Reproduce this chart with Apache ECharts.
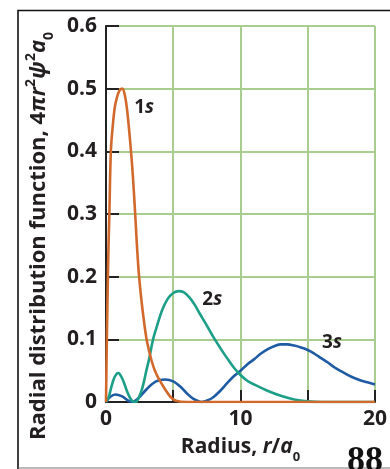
<!DOCTYPE html>
<html>
<head>
<meta charset="utf-8">
<script src="https://cdn.jsdelivr.net/npm/echarts@6/dist/echarts.min.js"></script>
<style>
html,body{margin:0;padding:0;background:#fff;}
#c{width:390px;height:469px;}
</style>
</head>
<body>
<div id="c"></div>
<script>
// ---- data ----
const r1s = [0, 0.05, 0.1, 0.15, 0.2, 0.25, 0.36, 0.5, 0.65, 0.8, 1.0, 1.2, 1.4, 1.6, 1.86, 2.0, 2.17, 2.3, 2.46, 2.7, 3.0, 3.2, 3.4, 3.6, 3.9, 4.4, 4.8, 5.2, 6, 8, 10, 12, 14, 16, 18, 20];
const v1s = [0, 0.08, 0.15, 0.21, 0.26, 0.3, 0.4, 0.44, 0.47, 0.485, 0.497, 0.5, 0.49, 0.46, 0.4, 0.36, 0.3, 0.25, 0.2, 0.15, 0.102, 0.082, 0.065, 0.052, 0.038, 0.02, 0.008, 0.002, 0, 0, 0, 0, 0, 0, 0, 0];

const r2s = [0, 0.2, 0.4, 0.6, 0.8, 0.9, 1.0, 1.2, 1.4, 1.6, 1.8, 2.0, 2.2, 2.4, 2.7, 3.0, 3.2, 3.5, 3.8, 4.2, 4.6, 5.0, 5.4, 5.8, 6.2, 6.6, 7.0, 7.5, 8.0, 8.5, 9.0, 9.5, 10, 10.5, 11, 12, 13, 14, 15, 16, 20];
const v2s = [0, 0.008, 0.024, 0.038, 0.045, 0.046, 0.045, 0.038, 0.027, 0.015, 0.006, 0.001, 0, 0.005, 0.022, 0.05, 0.068, 0.1, 0.122, 0.148, 0.165, 0.174, 0.177, 0.175, 0.167, 0.155, 0.14, 0.122, 0.103, 0.086, 0.07, 0.055, 0.043, 0.034, 0.028, 0.018, 0.01, 0.004, 0.001, 0, 0];

const r3s = [0, 0.3, 0.7, 1.2, 1.6, 1.9, 2.4, 3.0, 3.5, 4.0, 4.4, 5.0, 5.5, 6.0, 6.5, 7.1, 7.6, 8.0, 8.5, 9.0, 9.5, 10, 10.5, 11, 11.5, 12, 12.5, 13, 13.5, 14, 14.5, 15, 15.5, 16, 16.5, 17, 17.5, 18, 18.5, 19, 19.5, 20];
const v3s = [0, 0.008, 0.012, 0.009, 0.003, 0, 0.006, 0.02, 0.03, 0.035, 0.036, 0.033, 0.025, 0.014, 0.005, 0, 0.003, 0.008, 0.018, 0.03, 0.041, 0.05, 0.06, 0.068, 0.077, 0.084, 0.089, 0.092, 0.092, 0.09, 0.087, 0.083, 0.077, 0.07, 0.063, 0.055, 0.049, 0.043, 0.038, 0.034, 0.031, 0.028];

const seriesNames = ['1s', '2s', '3s'];
const labelAt = [[2.83, 0.47], [7.9, 0.164], [16.8, 0.094]];
const xTickLabels = {0: '0', 10: '10', 20: '20'};
const yTickLabels = ['0', '0.1', '0.2', '0.3', '0.4', '0.5', '0.6'];

// ---- build ----
const zip = (a, b) => a.map((x, i) => [x, b[i]]);
const colors = ['#d2692c', '#1c9f86', '#1f5ba5'];
const dataSets = [zip(r1s, v1s), zip(r2s, v2s), zip(r3s, v3s)];
const txt = '#231f20';
const FONT = 'Open Sans';

const chart = echarts.init(document.getElementById('c'), null, {renderer: 'canvas'});

const series = dataSets.map((d, i) => ({
  type: 'line',
  name: seriesNames[i],
  data: d,
  smooth: 0.35,
  showSymbol: false,
  symbol: 'none',
  lineStyle: {color: colors[i], width: 2.6},
  z: 3 + (2 - i),
  markPoint: {
    symbol: 'circle', symbolSize: 0,
    data: [{coord: labelAt[i]}],
    label: {
      show: true, position: 'inside',
      formatter: '{n|' + seriesNames[i].charAt(0) + '}{s|' + seriesNames[i].slice(1) + '}',
      rich: {
        n: {fontFamily: FONT, fontWeight: 'bold', fontSize: 19, color: txt},
        s: {fontFamily: FONT, fontWeight: 'bold', fontStyle: 'italic', fontSize: 19, color: txt}
      }
    }
  }
}));

const option = {
  animation: false,
  backgroundColor: '#fff',
  grid: {left: 106, right: 7, top: 26, bottom: 66, containLabel: false},
  xAxis: {
    type: 'value', min: 0, max: 20, interval: 5,
    name: 'Radius, {i|r}/{i|a}{sub|0}',
    nameLocation: 'middle', nameGap: 35,
    nameTextStyle: {
      fontFamily: FONT, fontWeight: 'bold', fontSize: 21, color: txt,
      rich: {
        i: {fontFamily: FONT, fontWeight: 'bold', fontStyle: 'italic', fontSize: 21, color: txt},
        sub: {fontFamily: FONT, fontWeight: 'bold', fontSize: 13, color: txt, verticalAlign: 'bottom', padding: [0, 0, -6, 0]}
      }
    },
    axisLine: {show: true, lineStyle: {color: '#222', width: 2}},
    axisTick: {show: true, inside: true, length: 12, lineStyle: {color: '#222', width: 2}},
    axisLabel: {
      margin: 7, fontFamily: FONT, fontWeight: 'bold', fontSize: 21, color: txt,
      formatter: v => (xTickLabels[v] !== undefined ? xTickLabels[v] : '')
    },
    splitLine: {show: true, lineStyle: {color: '#a9cd8e', width: 2}}
  },
  yAxis: {
    type: 'value', min: 0, max: 0.6, interval: 0.1,
    name: 'Radial distribution function, 4{i|πr}{sup|2}{i|ψ}{sup|2}{i|a}{sub|0}',
    nameLocation: 'middle', nameGap: 53, nameRotate: 90,
    nameTextStyle: {
      fontFamily: FONT, fontWeight: 'bold', fontSize: 22, color: txt,
      padding: [0, 44, 0, 0],
      rich: {
        i: {fontFamily: FONT, fontWeight: 'bold', fontStyle: 'italic', fontSize: 22, color: txt},
        sup: {fontFamily: FONT, fontWeight: 'bold', fontSize: 14, color: txt, verticalAlign: 'top', padding: [-4, 0, 0, 0]},
        sub: {fontFamily: FONT, fontWeight: 'bold', fontSize: 14, color: txt, verticalAlign: 'bottom', padding: [0, 0, -6, 0]}
      }
    },
    axisLine: {show: true, lineStyle: {color: '#222', width: 2}},
    axisTick: {show: true, inside: true, length: 13, lineStyle: {color: '#222', width: 2}},
    axisLabel: {
      margin: 9, fontFamily: FONT, fontWeight: 'bold', fontSize: 21, color: txt,
      formatter: (v) => yTickLabels[Math.round(v * 10)]
    },
    splitLine: {show: true, lineStyle: {color: '#a9cd8e', width: 2}}
  },
  graphic: [
    {type: 'polyline', shape: {points: [[18, 469], [18, 10.5], [390, 10.5]]}, style: {stroke: '#111', lineWidth: 1.6, fill: null}, silent: true},
    {type: 'line', shape: {x1: 18, y1: 468, x2: 390, y2: 468}, style: {stroke: '#777', lineWidth: 1}, silent: true},
    {type: 'text', left: 347, top: 444, style: {text: '88', font: 'bold 36px "Liberation Serif"', fill: '#111'}, silent: true}
  ],
  series: series
};
chart.setOption(option);
</script>
</body>
</html>
